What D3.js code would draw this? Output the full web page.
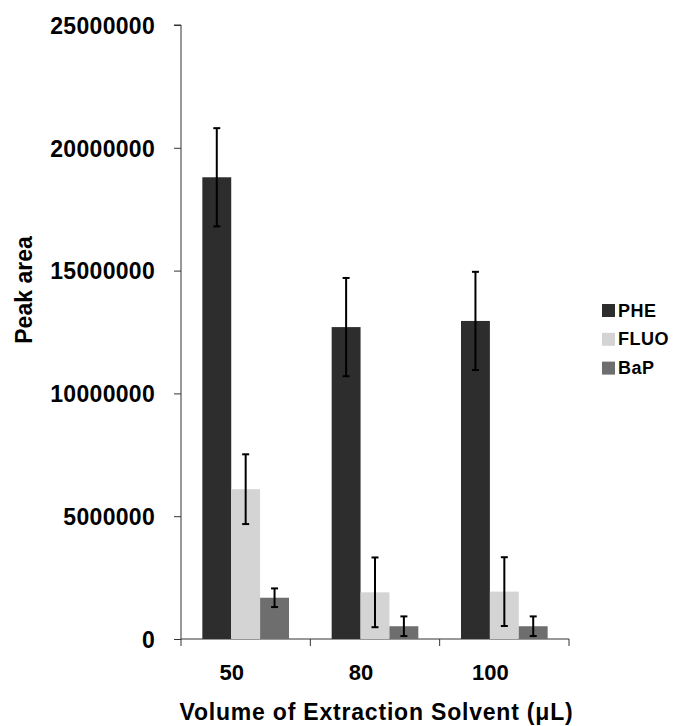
<!DOCTYPE html>
<html>
<head>
<meta charset="utf-8">
<script src="https://cdn.jsdelivr.net/npm/d3@7"></script>
<style>
  body { margin: 0; background: #fff; }
  text { font-family: Arial, "Liberation Sans", sans-serif; font-weight: bold; fill: #000; }
</style>
</head>
<body>
<div id="chart"></div>
<script>
var volumes = ["50", "80", "100"];
var compounds = ["PHE", "FLUO", "BaP"];
var pheValues = [18800000, 12700000, 12950000];
var pheErrors = [2000000, 2000000, 2000000];
var fluoValues = [6100000, 1900000, 1930000];
var fluoErrors = [1420000, 1420000, 1400000];
var bapValues = [1680000, 520000, 520000];
var bapErrors = [380000, 400000, 400000];
var yTicks = [0, 5000000, 10000000, 15000000, 20000000, 25000000];

var colors = {PHE: "#2d2d2d", FLUO: "#d4d4d4", BaP: "#6e6e6e"};

var rows = volumes.map(function(v, i) {
  return {
    volume: v,
    bars: [
      {key: "PHE", value: pheValues[i], err: pheErrors[i]},
      {key: "FLUO", value: fluoValues[i], err: fluoErrors[i]},
      {key: "BaP", value: bapValues[i], err: bapErrors[i]}
    ]
  };
});

var W = 673, H = 726;
var margin = {top: 25, left: 181, right: 104, bottom: 87};
var width = W - margin.left - margin.right,
    height = H - margin.top - margin.bottom;

var svg = d3.select("#chart").append("svg")
    .attr("width", W)
    .attr("height", H)
  .append("g")
    .attr("transform", "translate(" + margin.left + "," + margin.top + ")");

var x0 = d3.scaleBand().domain(volumes).range([0, width]).paddingInner(0.33).paddingOuter(0.165);
var x1 = d3.scaleBand().domain(compounds).range([0, x0.bandwidth()]);
var y = d3.scaleLinear().domain([0, 25000000]).range([height, 0]);

// axes
var yAxis = d3.axisLeft(y).tickValues(yTicks).tickSize(7).tickPadding(19).tickFormat(d3.format("d"));
var gy = svg.append("g").attr("class", "y axis").call(yAxis);
gy.selectAll("text").style("font-size", "23px").style("letter-spacing", "0.3px").attr("dy", "0.36em");
gy.select(".domain").attr("d", "M0," + height + "V0H-7").attr("stroke", "#333");
gy.selectAll(".tick line").attr("stroke", "#333");

var xAxis = svg.append("g").attr("class", "x axis").attr("transform", "translate(0," + height + ")");
xAxis.append("line").attr("x1", 0).attr("x2", width).attr("stroke", "#333");
var boundaries = d3.range(volumes.length + 1).map(function(i) { return i * width / volumes.length; });
xAxis.selectAll(".xt").data(boundaries).enter().append("line")
  .attr("x1", function(d) { return d; }).attr("x2", function(d) { return d; })
  .attr("y1", 0).attr("y2", 7).attr("stroke", "#333");
xAxis.selectAll(".xl").data(volumes).enter().append("text")
  .attr("x", function(d) { return x0(d) + x0.bandwidth() / 2 - 14; })
  .attr("y", 41)
  .attr("text-anchor", "middle")
  .style("font-size", "22px")
  .text(function(d) { return d; });

// bars
var groups = svg.selectAll(".grp").data(rows).enter().append("g")
  .attr("transform", function(d) { return "translate(" + x0(d.volume) + ",0)"; });

groups.selectAll("rect").data(function(d) { return d.bars; }).enter().append("rect")
  .attr("x", function(d) { return x1(d.key); })
  .attr("width", x1.bandwidth())
  .attr("y", function(d) { return y(d.value); })
  .attr("height", function(d) { return height - y(d.value); })
  .attr("fill", function(d) { return colors[d.key]; });

// error bars
var eb = groups.selectAll(".err").data(function(d) { return d.bars; }).enter().append("g")
  .attr("transform", function(d) { return "translate(" + (x1(d.key) + x1.bandwidth() / 2) + ",0)"; })
  .attr("stroke", "#000").attr("stroke-width", 2);
eb.append("line").attr("y1", function(d) { return y(d.value + d.err); }).attr("y2", function(d) { return y(Math.max(0, d.value - d.err)); });
eb.append("line").attr("x1", -3.5).attr("x2", 3.5).attr("y1", function(d) { return y(d.value + d.err); }).attr("y2", function(d) { return y(d.value + d.err); });
eb.append("line").attr("x1", -3.5).attr("x2", 3.5).attr("y1", function(d) { return y(Math.max(0, d.value - d.err)); }).attr("y2", function(d) { return y(Math.max(0, d.value - d.err)); });

// axis titles
svg.append("text")
  .attr("x", 376.5 - margin.left)
  .attr("y", 720 - margin.top)
  .attr("text-anchor", "middle")
  .style("font-size", "23px")
  .style("letter-spacing", "0.8px")
  .text("Volume of Extraction Solvent (\u03bcL)");

svg.append("text")
  .attr("transform", "translate(" + (32 - margin.left) + "," + (290 - margin.top) + ") rotate(-90)")
  .attr("text-anchor", "middle")
  .style("font-size", "23px")
  .text("Peak area");

// legend
var legend = svg.append("g").attr("transform", "translate(" + (602 - margin.left) + "," + (310 - margin.top) + ")");
var li = legend.selectAll(".li").data(compounds).enter().append("g")
  .attr("transform", function(d, i) { return "translate(0," + i * 28.8 + ")"; });
li.append("rect").attr("x", 0).attr("y", -6).attr("width", 13).attr("height", 13)
  .attr("fill", function(d) { return colors[d]; });
li.append("text").attr("x", 16).attr("y", 6.5).style("font-size", "18px").style("letter-spacing", "0.5px").text(function(d) { return d; });
</script>
</body>
</html>
